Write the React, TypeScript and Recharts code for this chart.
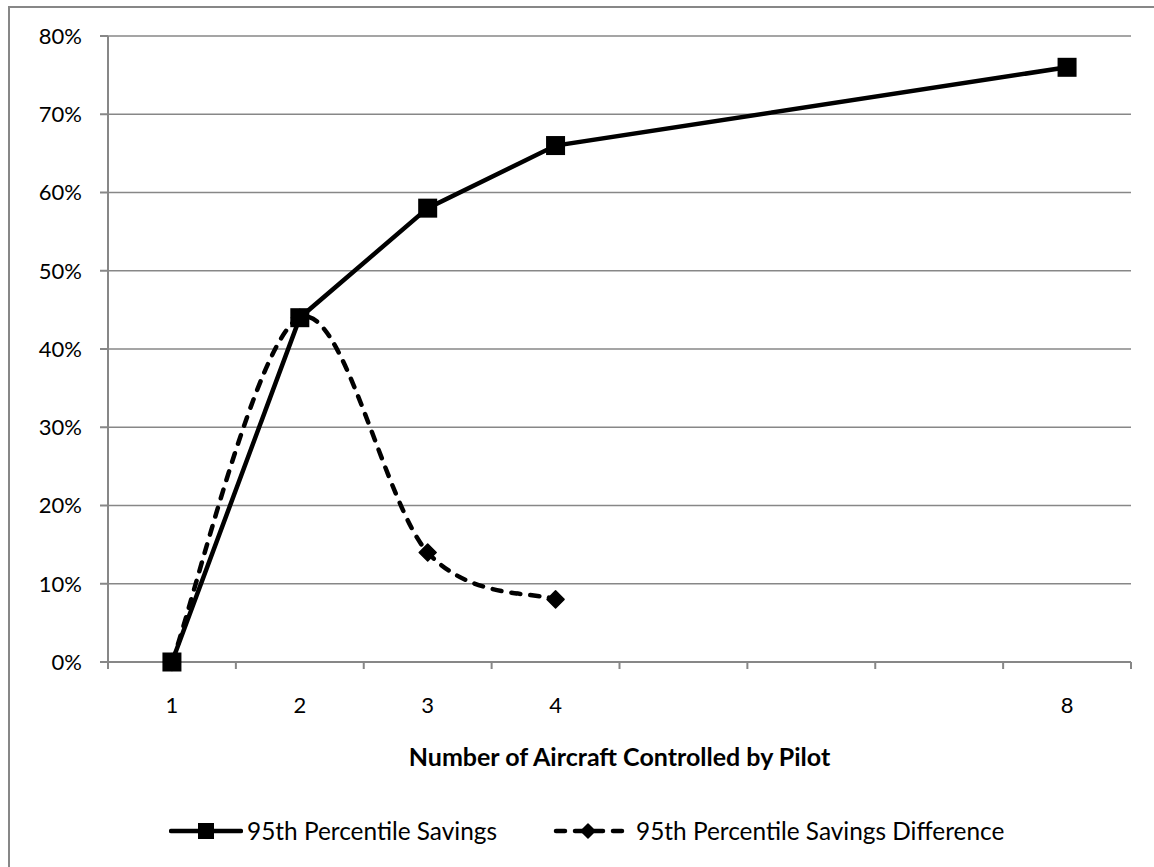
import React from 'react';
import { LineChart, Line, XAxis, YAxis, CartesianGrid, Legend } from 'recharts';

const categories = ['1', '2', '3', '4', '', '', '', '8'];
const savings = [0, 44, 58, 66, null, null, null, 76];
const savingsDifference = [0, 44, 14, 8, null, null, null, null];
const yTicks = [0, 10, 20, 30, 40, 50, 60, 70, 80];

const data = categories.map((name, i) => ({
  name,
  pos: i + 0.5,
  savings: savings[i],
  difference: savingsDifference[i],
}));

// tick marks on band edges, labels on band centres
const xTicks = Array.from({ length: categories.length * 2 + 1 }, (_, i) => i / 2);

const FONT = 'Lato, "Noto Sans", sans-serif';
const GRID = '#878787';

// Excel style smoothed line (uniform Catmull-Rom through the points)
const smoothCurve = (context: any) => {
  let pts: number[][] = [];
  return {
    areaStart() {},
    areaEnd() {},
    lineStart() {
      pts = [];
    },
    point(x: number, y: number) {
      pts.push([+x, +y]);
    },
    lineEnd() {
      if (!pts.length) return;
      context.moveTo(pts[0][0], pts[0][1]);
      for (let i = 0; i < pts.length - 1; i++) {
        const p0 = pts[Math.max(i - 1, 0)];
        const p1 = pts[i];
        const p2 = pts[i + 1];
        const p3 = pts[Math.min(i + 2, pts.length - 1)];
        context.bezierCurveTo(
          p1[0] + (p2[0] - p0[0]) / 6,
          p1[1] + (p2[1] - p0[1]) / 6,
          p2[0] - (p3[0] - p1[0]) / 6,
          p2[1] - (p3[1] - p1[1]) / 6,
          p2[0],
          p2[1],
        );
      }
    },
  };
};

const SquareDot = (props: any) => {
  const { cx, cy, index } = props;
  if (cx == null || cy == null) return <g key={index} />;
  return <rect key={index} x={cx - 9.5} y={cy - 9.5} width={19} height={19} fill="#000" />;
};

const DiamondDot = (props: any) => {
  const { cx, cy, index } = props;
  if (cx == null || cy == null) return <g key={index} />;
  const r = 8.5;
  return (
    <polygon
      key={index}
      points={`${cx},${cy - r} ${cx + r},${cy} ${cx},${cy + r} ${cx - r},${cy}`}
      fill="#000"
      stroke="#000"
      strokeWidth={1.5}
      strokeLinejoin="round"
    />
  );
};

const XTick = (props: any) => {
  const { x, y, payload } = props;
  const v = payload.value;
  if (Number.isInteger(v)) {
    return <line x1={x} y1={y} x2={x} y2={y + 7} stroke={GRID} strokeWidth={2} />;
  }
  return (
    <text x={x} y={y + 45} textAnchor="middle" dominantBaseline="middle" fontSize={22} fontFamily={FONT} fill="#000">
      {categories[Math.floor(v)]}
    </text>
  );
};

const renderLegend = () => (
  <div
    style={{
      display: 'flex',
      alignItems: 'center',
      paddingLeft: 159,
      fontFamily: FONT,
      fontSize: 24.4,
      color: '#000',
      whiteSpace: 'nowrap',
    }}
  >
    <svg width={74} height={20}>
      <line x1={2} y1={10} x2={72} y2={10} stroke="#000" strokeWidth={4.5} strokeLinecap="round" />
      <rect x={29} y={2} width={16} height={16} fill="#000" />
    </svg>
    <span style={{ marginLeft: 4 }}>95th Percentile Savings</span>
    <svg width={72} height={20} style={{ marginLeft: 56 }}>
      <line x1={3} y1={10} x2={69} y2={10} stroke="#000" strokeWidth={4.5} strokeLinecap="round" strokeDasharray="9 10" />
      <polygon points="35,3 42,10 35,17 28,10" fill="#000" stroke="#000" strokeWidth={1.5} strokeLinejoin="round" />
    </svg>
    <span style={{ marginLeft: 11 }}>95th Percentile Savings Difference</span>
  </div>
);

export default function App() {
  return (
    <div
      style={{
        position: 'fixed',
        left: 8,
        top: 6,
        width: 1146,
        height: 861,
        borderLeft: `2px solid ${GRID}`,
        borderTop: `2px solid ${GRID}`,
        background: '#fff',
      }}
    >
      <LineChart width={1144} height={859} data={data} margin={{ top: 28, right: 23, left: 0, bottom: 0 }}>
        <CartesianGrid vertical={false} stroke={GRID} strokeWidth={1.5} />
        <XAxis
          dataKey="pos"
          type="number"
          domain={[0, categories.length]}
          ticks={xTicks}
          interval={0}
          height={205}
          tickSize={0}
          tickMargin={0}
          tickLine={false}
          tick={<XTick />}
          axisLine={{ stroke: GRID, strokeWidth: 2 }}
          label={{
            value: 'Number of Aircraft Controlled by Pilot',
            position: 'insideTop',
            offset: 86,
            fontSize: 25,
            fontWeight: 'bold',
            fontFamily: FONT,
            fill: '#000',
          }}
        />
        <YAxis
          domain={[0, 80]}
          ticks={yTicks}
          width={98}
          tickSize={8}
          tickMargin={18}
          tickFormatter={(v) => `${v}%`}
          tick={{ fontSize: 22, fontFamily: FONT, fill: '#000' }}
          tickLine={{ stroke: GRID, strokeWidth: 2 }}
          axisLine={{ stroke: GRID, strokeWidth: 2 }}
        />
        <Legend
          layout="horizontal"
          verticalAlign="middle"
          align="center"
          content={renderLegend}
          wrapperStyle={{ top: 808, left: 0, width: 1144 }}
        />
        <Line
          dataKey="savings"
          type="linear"
          stroke="#000"
          strokeWidth={4.5}
          connectNulls
          dot={<SquareDot />}
          activeDot={false}
          isAnimationActive={false}
        />
        <Line
          dataKey="difference"
          type={smoothCurve as any}
          stroke="#000"
          strokeWidth={4.5}
          strokeDasharray="9 10"
          strokeLinecap="round"
          dot={<DiamondDot />}
          activeDot={false}
          isAnimationActive={false}
        />
      </LineChart>
    </div>
  );
}
